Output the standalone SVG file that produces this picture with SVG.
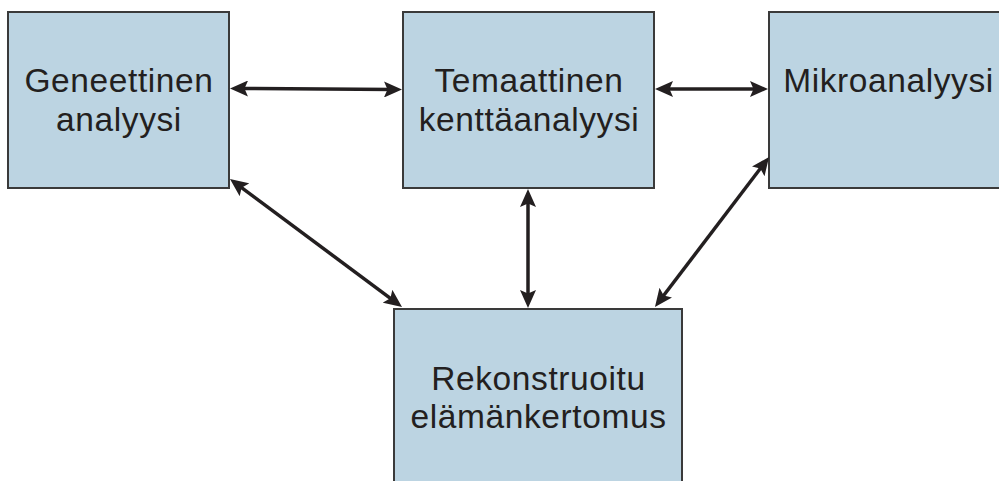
<svg xmlns="http://www.w3.org/2000/svg" width="999" height="481" viewBox="0 0 999 481">
<style>
.box{fill:#bcd4e2;stroke:#3a3a3a;stroke-width:2}
.lbl{font-family:"Liberation Sans",Arial,sans-serif;font-size:33.5px;letter-spacing:0.6px;fill:#231f20;text-anchor:middle}
.con{stroke:#231f20;stroke-width:3.5;fill:none;marker-start:url(#ah);marker-end:url(#ah)}
</style>
<defs>
<marker id="ah" viewBox="0 0 18 16" refX="9" refY="8" markerWidth="18" markerHeight="16" markerUnits="userSpaceOnUse" orient="auto-start-reverse">
<path d="M0,0 L18,8 L0,16 L3.5,8 z" fill="#231f20"/>
</marker>
</defs>
<rect width="999" height="481" fill="#ffffff"/>
<g id="n1"><rect class="box" x="8" y="12" width="221" height="176"/>
<text class="lbl" x="119" y="92">Geneettinen</text><text class="lbl" x="119" y="131">analyysi</text></g>
<g id="n2"><rect class="box" x="403" y="12" width="251" height="176"/>
<text class="lbl" x="529" y="92">Temaattinen</text><text class="lbl" x="529" y="131">kenttäanalyysi</text></g>
<g id="n3"><rect class="box" x="769" y="12" width="245" height="176"/>
<text class="lbl" x="888.5" y="92">Mikroanalyysi</text></g>
<g id="n4"><rect class="box" x="394" y="309" width="288" height="185"/>
<text class="lbl" x="538.5" y="390">Rekonstruoitu</text><text class="lbl" x="538.5" y="428">elämänkertomus</text></g>
<g id="connectors">
<line class="con" x1="239" y1="88.5" x2="393" y2="89.5"/>
<line class="con" x1="664" y1="89" x2="759" y2="89"/>
<line class="con" x1="237.2" y1="184.4" x2="394.8" y2="301.6"/>
<line class="con" x1="528" y1="198" x2="528" y2="299"/>
<line class="con" x1="763.6" y1="164.2" x2="660.4" y2="299.8"/>
</g>
</svg>
